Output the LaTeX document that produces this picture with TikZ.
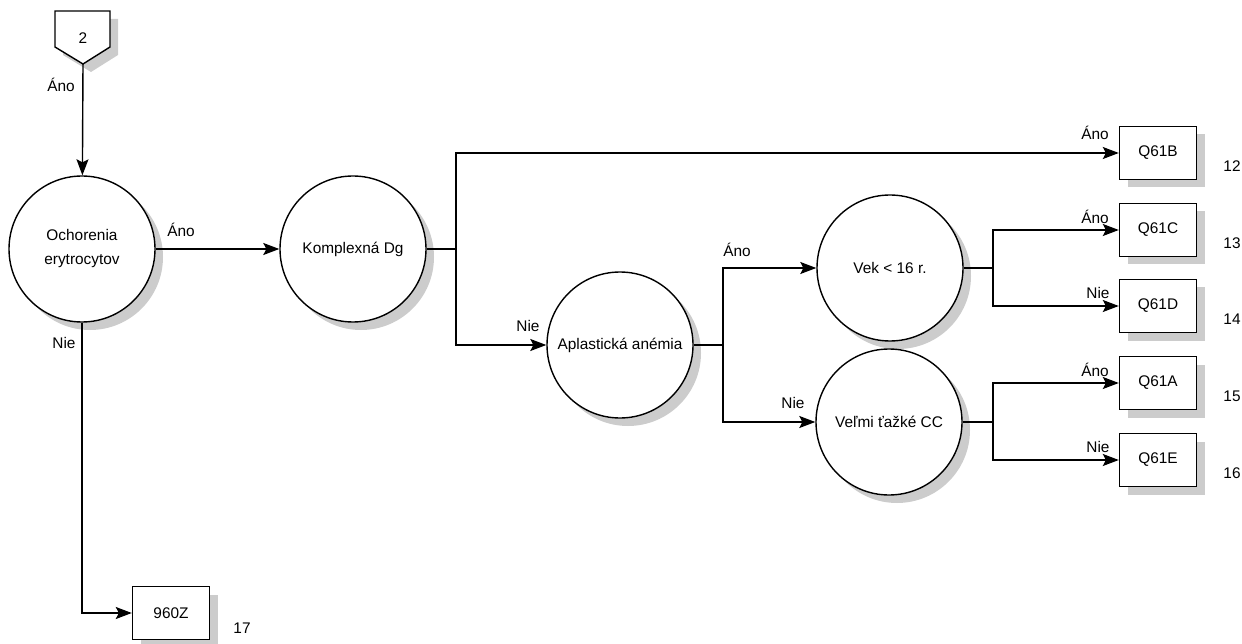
\documentclass[tikz,border=0pt]{standalone}
\usepackage{fontspec}
\setmainfont{Liberation Sans}
\usetikzlibrary{positioning,arrows.meta,shadows}

\begin{document}
\begin{tikzpicture}[x=1pt,y=-1pt,line width=1.4pt,font=\fontsize{15.4}{24}\selectfont,
  decision/.style={draw,circle,fill=white,minimum size=146pt,inner sep=0pt,align=center,
    drop shadow={shadow xshift=8pt,shadow yshift=-8pt,fill=gray!40,opacity=1}},
  code/.style={draw,rectangle,fill=white,minimum width=77pt,minimum height=53pt,inner sep=0pt,
    drop shadow={shadow xshift=8pt,shadow yshift=-8pt,fill=gray!40,opacity=1}},
  answer/.style={inner sep=0pt},
  flow/.style={-{Stealth[length=16pt,width=12pt,inset=3pt]}}]
\useasboundingbox (0,0) rectangle (1242,644);
% off-page connector
\fill[gray!40,shift={(8,8)}] (55,11) -- (110,11) -- (110,47) -- (83,64) -- (55,47) -- cycle;
\draw[fill=white] (55,11) -- (110,11) -- (110,47) -- (83,64) -- (55,47) -- cycle;
\node (off2) at (83,38) {2};
\coordinate (off2tip) at (83,64);
% decisions
\node[decision] (ery) at (82,249) {Ochorenia\\erytrocytov};
\node[decision] (kompl) at (353,249) {Komplexná Dg};
\node[decision] (apla) at (620,345) {Aplastická anémia};
\node[decision] (vek) at (890,268) {Vek < 16 r.};
\node[decision] (tazke) at (889,422) {Veľmi ťažké CC};
% codes
\foreach \c/\y/\n in {Q61B/153/12,Q61C/230/13,Q61D/306/14,Q61A/383/15,Q61E/460/16} {
  \node[code] (\c) at (1158,\y) {\c};
  \node (n\n) at (1232,\y+13) {\n};
}
\node[code] (Z960) at (171,613) {960Z};
\node (n17) at (242,628) {17};
% junctions
\coordinate (kj) at (456,249);
\coordinate (aj) at (723,345);
\coordinate (vj) at (993,268);
\coordinate (tj) at (993,422);
% connectors
\draw[flow] (off2tip) -- (ery);
\draw[flow] (ery) -- (kompl);
\draw[flow] (ery.south) |- (Z960);
\draw (kompl.east) -- (kj);
\draw[flow] (kj) |- (Q61B);
\draw[flow] (kj) |- (apla);
\draw (apla.east) -- (aj);
\draw[flow] (aj) |- (vek);
\draw[flow] (aj) |- (tazke);
\draw (vek.east) -- (vj);
\draw[flow] (vj) |- (Q61C);
\draw[flow] (vj) |- (Q61D);
\draw (tazke.east) -- (tj);
\draw[flow] (tj) |- (Q61A);
\draw[flow] (tj) |- (Q61E);
% answers
\node[answer] (a1) at (61,85) {Áno};
\node[answer] (a2) at (181,230) {Áno};
\node[answer] (a3) at (64,343) {Nie};
\node[answer] (a4) at (528,326) {Nie};
\node[answer] (a5) at (737,250) {Áno};
\node[answer] (a6) at (793,403) {Nie};
\node[answer] (a7) at (1095,133) {Áno};
\node[answer] (a8) at (1095,217) {Áno};
\node[answer] (a9) at (1098,293) {Nie};
\node[answer] (a10) at (1095,370) {Áno};
\node[answer] (a11) at (1098,447) {Nie};
\end{tikzpicture}
\end{document}
